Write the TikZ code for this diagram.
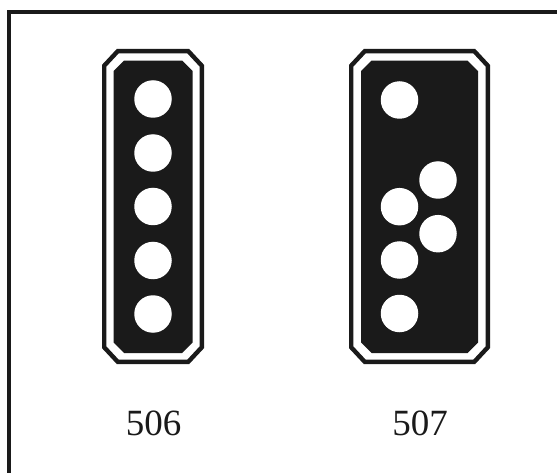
\documentclass[tikz,border=0pt]{standalone}
\usepackage{fontspec}
\setmainfont{Liberation Serif}
\definecolor{ink}{HTML}{1A1A1A}
\tikzset{
  x=1pt,y=-1pt,
  framerule/.style={draw=ink,line width=4.2pt,line cap=butt,line join=miter},
  signring/.style={draw=ink,line width=4.4pt,fill=white,line join=miter},
  signbody/.style={fill=ink},
  lamp/.style={circle,fill=white,draw=none,minimum size=37.5pt,inner sep=0pt},
  caption/.style={font=\fontsize{37}{37}\selectfont,text=ink,inner sep=0pt,anchor=center}
}
\newcommand{\octagon}[6]{(#1+#5,#2) -- (#3-#5,#2) -- (#3,#2+#6) -- (#3,#4-#6) -- (#3-#5,#4) -- (#1+#5,#4) -- (#1,#4-#6) -- (#1,#2+#6) -- cycle}
\begin{document}
\begin{tikzpicture}
\useasboundingbox (0,0) rectangle (557,473);
\fill[white] (0,0) rectangle (557,473);
\coordinate (frameBL) at (8.7,473);
\coordinate (frameTL) at (8.7,11.8);
\coordinate (frameTR) at (557,11.8);
\draw[framerule] (frameBL) -- (frameTL) -- (frameTR);
% sign 506
\draw[signring] \octagon{104.2}{51.2}{201.8}{361.8}{13.5}{14.5};
\fill[signbody] \octagon{113.5}{60.7}{192.7}{353}{10.5}{10.5};
\foreach \n/\y in {a/99,b/153,c/206.5,d/260.5,e/314}
  \node[lamp] (l506\n) at (153,\y) {};
% sign 507
\draw[signring] \octagon{351.2}{51.2}{487.8}{361.8}{13.5}{14.5};
\fill[signbody] \octagon{361}{60.7}{478}{353}{10.5}{10.5};
\foreach \n/\x/\y in {a/399.5/100,b/399.5/206.7,c/399.5/260,d/399.5/313.5,e/438/180,f/438/233.7}
  \node[lamp] (l507\n) at (\x,\y) {};
\node[caption] (c506) at (153.5,423) {506};
\node[caption] (c507) at (420,423) {507};
\end{tikzpicture}
\end{document}
